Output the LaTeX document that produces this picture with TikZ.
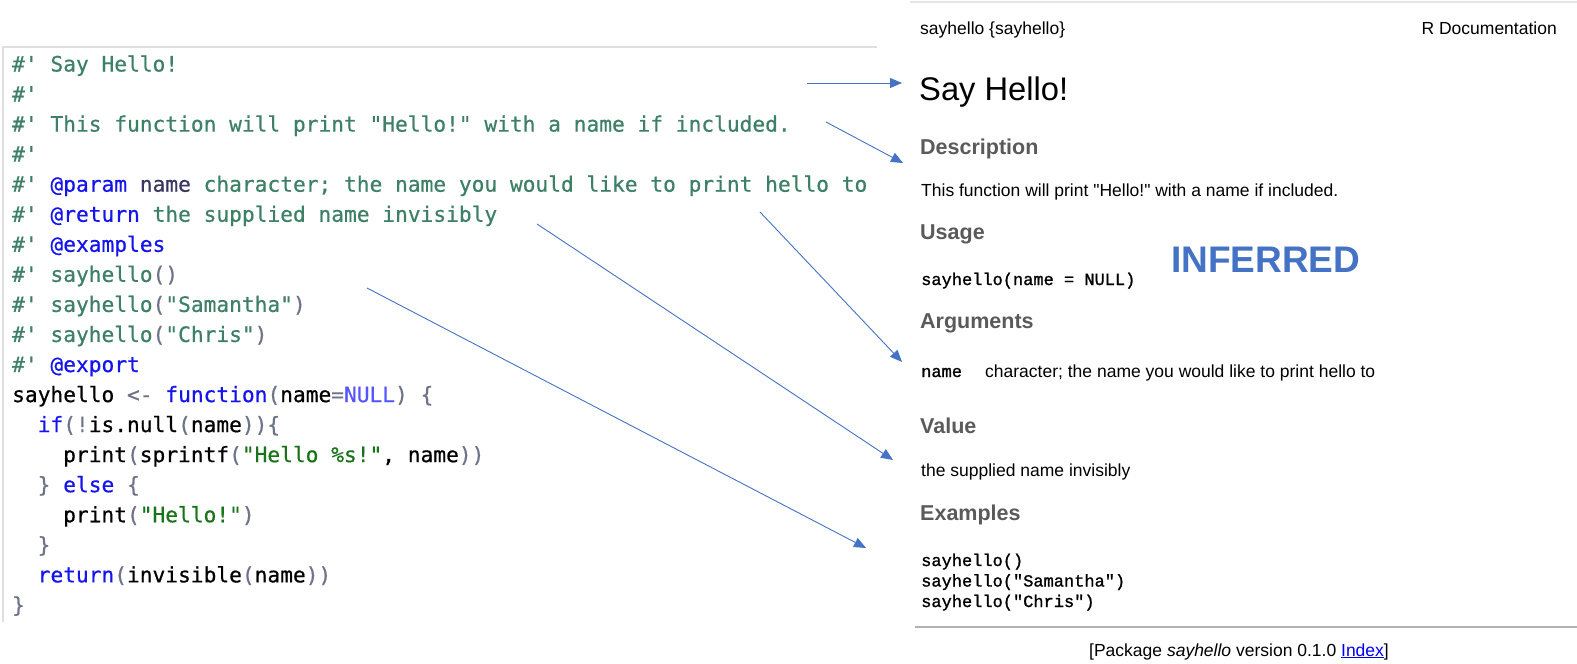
\documentclass[tikz,border=0pt]{standalone}
\usepackage{fontspec}
\setmainfont{Liberation Sans}[Ligatures=TeXOff]
\setmonofont{DejaVu Sans Mono}[FakeBold=0.6]
\newfontfamily\rdmono{Liberation Mono}[FakeBold=1.2]
\usepackage{xcolor}
\usetikzlibrary{arrows.meta}

\definecolor{cmtgreen}{RGB}{62,128,102}
\definecolor{tagblue}{RGB}{20,20,235}
\definecolor{argnavy}{RGB}{55,55,95}
\definecolor{strgreen}{RGB}{25,115,25}
\definecolor{nullblue}{RGB}{85,85,255}
\definecolor{punctgray}{RGB}{110,115,135}
\definecolor{headgray}{RGB}{90,90,90}
\definecolor{arrowblue}{RGB}{68,114,196}
\definecolor{linkblue}{RGB}{0,0,238}

\newcommand{\rcmt}[1]{\textcolor{cmtgreen}{#1}}
\newcommand{\rtag}[1]{\textcolor{tagblue}{#1}}
\newcommand{\rarg}[1]{\textcolor{argnavy}{#1}}
\newcommand{\rstr}[1]{\textcolor{strgreen}{#1}}
\newcommand{\rkw}[1]{\textcolor{tagblue}{#1}}
\newcommand{\rnull}[1]{\textcolor{nullblue}{#1}}
\newcommand{\rpun}[1]{\textcolor{punctgray}{#1}}

\begin{document}
\begin{tikzpicture}[x=1pt, y=-1pt,
    code/.style={anchor=base west, inner sep=0pt, font=\fontsize{21.2}{25}\selectfont\ttfamily},
    sect/.style={anchor=base west, inner sep=0pt, text=headgray, font=\fontsize{21.5}{24}\selectfont\bfseries},
    body/.style={anchor=base west, inner sep=0pt, font=\fontsize{17.5}{20}\selectfont},
    rcode/.style={anchor=base west, inner sep=0pt, font=\fontsize{17}{20}\selectfont\rdmono},
    link/.style={-{Triangle[length=12pt,width=10pt]}, arrowblue, line width=0.9pt}]
    \useasboundingbox (0,0) rectangle (1577,664);

    % Source file frame
    \draw[gray!25, line width=2pt] (3,622) -- (3,47) -- (877,47);

    % Roxygen comment block
    \node[code] (l1) at (12,71.5) {\rcmt{\#' Say Hello!}};
    \node[code] (l2) at (12,101.55) {\rcmt{\#'}};
    \node[code] (l3) at (12,131.6) {\rcmt{\#' This function will print "Hello!" with a name if included.}};
    \node[code] (l4) at (12,161.65) {\rcmt{\#'}};
    \node[code] (l5) at (12,191.7) {\rcmt{\#'} \rtag{@param} \rarg{name} \rcmt{character; the name you would like to print hello to}};
    \node[code] (l6) at (12,221.75) {\rcmt{\#'} \rtag{@return} \rcmt{the supplied name invisibly}};
    \node[code] (l7) at (12,251.8) {\rcmt{\#'} \rtag{@examples}};
    \node[code] (l8) at (12,281.85) {\rcmt{\#' sayhello}\rpun{()}};
    \node[code] (l9) at (12,311.9) {\rcmt{\#' sayhello}\rpun{(}\rcmt{"Samantha"}\rpun{)}};
    \node[code] (l10) at (12,341.95) {\rcmt{\#' sayhello}\rpun{(}\rcmt{"Chris"}\rpun{)}};
    \node[code] (l11) at (12,372.0) {\rcmt{\#'} \rtag{@export}};

    % Function body
    \node[code] (l12) at (12,402.05) {sayhello \rpun{<-} \rkw{function}\rpun{(}name\rpun{=}\rnull{NULL}\rpun{)} \rpun{\{}};
    \node[code] (l13) at (37.5,432.1) {\rkw{if}\rpun{(!}is.null\rpun{(}name\rpun{))\{}};
    \node[code] (l14) at (63,462.15) {print\rpun{(}sprintf\rpun{(}\rstr{"Hello \%s!"}, name\rpun{))}};
    \node[code] (l15) at (37.5,492.2) {\rpun{\}} \rkw{else} \rpun{\{}};
    \node[code] (l16) at (63,522.25) {print\rpun{(}\rstr{"Hello!"}\rpun{)}};
    \node[code] (l17) at (37.5,552.3) {\rpun{\}}};
    \node[code] (l18) at (37.5,582.35) {\rkw{return}\rpun{(}invisible\rpun{(}name\rpun{))}};
    \node[code] (l19) at (12,612.4) {\rpun{\}}};

    % Help page
    \draw[gray!20, line width=1.5pt] (910,2) -- (1577,2);
    \node[body] (hdr) at (920,34) {sayhello \{sayhello\}};
    \node[body, anchor=base east] (rdoc) at (1557,34) {R Documentation};
    \node[anchor=base west, inner sep=0pt, font=\fontsize{32.7}{36}\selectfont] (title) at (919,100) {Say Hello!};

    \node[sect] (desc) at (920,154) {Description};
    \node[body] (desctxt) at (921,196) {This function will print "Hello!" with a name if included.};
    \node[sect] (usage) at (920,239.5) {Usage};
    \node[rcode] (usagetxt) at (921,285) {sayhello(name = NULL)};
    \node[anchor=base west, inner sep=0pt, text=arrowblue, font=\fontsize{37}{40}\selectfont\bfseries] (inferred) at (1171,272.5) {INFERRED};
    \node[sect] (args) at (920,328) {Arguments};
    \node[rcode] (argname) at (921,377) {name};
    \node[body] (argtxt) at (985,377) {character; the name you would like to print hello to};
    \node[sect] (value) at (920,433) {Value};
    \node[body] (valtxt) at (921,476) {the supplied name invisibly};
    \node[sect] (examples) at (920,520) {Examples};
    \node[rcode] (ex1) at (921,566) {sayhello()};
    \node[rcode] (ex2) at (921,586.5) {sayhello("Samantha")};
    \node[rcode] (ex3) at (921,607) {sayhello("Chris")};

    \draw[gray!60, line width=1.5pt] (915,627) -- (1577,627);
    \node[body, anchor=base] (footer) at (1239,656) {[Package \textit{sayhello} version 0.1.0 \textcolor{linkblue}{\underline{Index}}]};

    % Arrows from tags to sections
    \coordinate (s1) at (807,83);  \coordinate (e1) at (902,83);
    \coordinate (s2) at (826,122); \coordinate (e2) at (903,163);
    \coordinate (s3) at (760,212); \coordinate (e3) at (902,362);
    \coordinate (s4) at (537,224); \coordinate (e4) at (893,460);
    \coordinate (s5) at (367,288); \coordinate (e5) at (866,548);
    \draw[link] (s1) -- (e1);
    \draw[link] (s2) -- (e2);
    \draw[link] (s3) -- (e3);
    \draw[link] (s4) -- (e4);
    \draw[link] (s5) -- (e5);
\end{tikzpicture}
\end{document}
